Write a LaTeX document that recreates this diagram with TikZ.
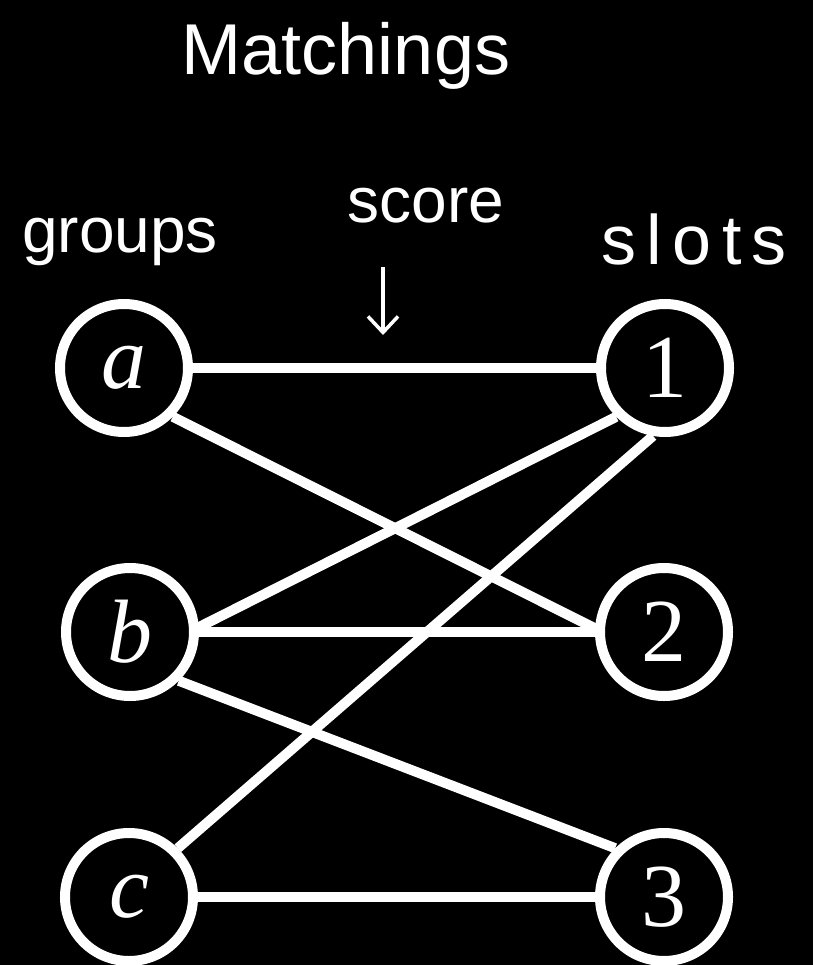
\documentclass[tikz,border=0pt]{standalone}
\usepackage{fontspec}
\newfontfamily\handfont{Liberation Sans}
\newfontfamily\handwide[LetterSpace=15]{Liberation Sans}
\newfontfamily\labelfont{Liberation Serif}
\usetikzlibrary{arrows.meta}
\begin{document}
\begin{tikzpicture}[x=1pt,y=-1pt,
  vertex/.style={circle, draw=white, line width=10pt, minimum size=128pt, inner sep=0pt, text=white, font=\labelfont\fontsize{90}{92}\selectfont},
  edge/.style={draw=white, line width=10pt},
  hand/.style={text=white, inner sep=0pt, anchor=base}]
\fill[black] (0,0) rectangle (813,965);
\useasboundingbox (0,0) rectangle (813,965);

\node[vertex] (a) at (124,368) {\itshape a};
\node[vertex] (b) at (130,632) {\itshape b};
\node[vertex] (c) at (129,897) {\itshape c};
\node[vertex] (n1) at (665,368) {1};
\node[vertex] (n2) at (664,632) {2};
\node[vertex] (n3) at (664,897) {3};

\draw[edge] (a.east) -- (n1.west);
\draw[edge] (a.-45) -- (n2.177);
\draw[edge] (b.4) -- (n1.-135);
\draw[edge] (b.east) -- (n2.west);
\draw[edge] (b.-45) -- (n3.135);
\draw[edge] (c.45) -- (n1.-100);
\draw[edge] (c.east) -- (n3.west);

\node[hand, font=\handfont\fontsize{72}{80}\selectfont] (title) at (346,75) {Matchings};
\node[hand, font=\handfont\fontsize{64}{70}\selectfont] (groups) at (120,253) {groups};
\node[hand, font=\handfont\fontsize{64}{70}\selectfont] (score) at (426,223) {score};
\node[hand, font=\handwide\fontsize{70}{75}\selectfont] (slots) at (694,265) {slots};

\coordinate (arrtop) at (383,267);
\coordinate (arrtip) at (383,335);
\draw[white, line width=3.5pt, -{Straight Barb[length=16pt,width=30pt]}] (arrtop) -- (arrtip);
\end{tikzpicture}
\end{document}
